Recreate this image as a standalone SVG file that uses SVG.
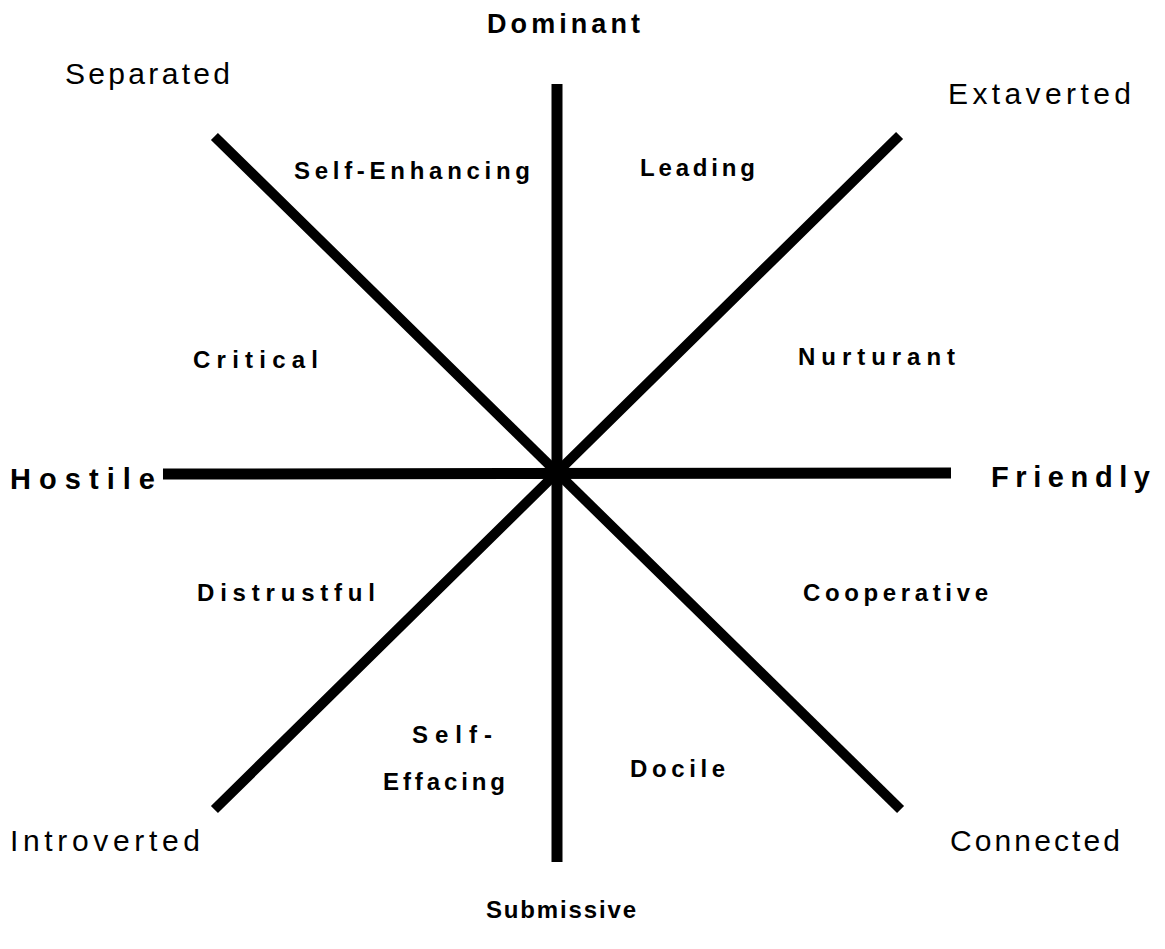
<svg xmlns="http://www.w3.org/2000/svg" width="1165" height="949" viewBox="0 0 1165 949">
<style>
.ax{stroke:#000;stroke-width:11;stroke-linecap:butt;fill:none}
.dg{stroke:#000;stroke-width:10;stroke-linecap:square;fill:none}
text{font-family:"Liberation Sans",Arial,sans-serif;fill:#000}
.pole{font-size:27px;font-weight:bold}
.sub{font-size:24px;font-weight:bold}
.big{font-size:29px;font-weight:bold}
.corner{font-size:30px}
.oct{font-size:24px;font-weight:bold}
</style>
<rect width="1165" height="949" fill="#fff"/>
<g id="connectors">
<line class="ax" x1="557" y1="84" x2="557" y2="862"/>
<line class="ax" x1="163" y1="474" x2="951" y2="473"/>
<line class="dg" x1="218" y1="140" x2="897" y2="806"/>
<line class="dg" x1="896" y1="139" x2="218" y2="806"/>
</g>
<g id="dominant"><text class="pole" x="487" y="33" textLength="153" lengthAdjust="spacing">Dominant</text></g>
<g id="submissive"><text class="sub" x="486" y="918" textLength="150" lengthAdjust="spacing">Submissive</text></g>
<g id="hostile"><text class="big" x="10" y="489" textLength="145" lengthAdjust="spacing">Hostile</text></g>
<g id="friendly"><text class="big" x="991" y="487" textLength="159" lengthAdjust="spacing">Friendly</text></g>
<g id="separated"><text class="corner" x="65" y="84" textLength="165" lengthAdjust="spacing">Separated</text></g>
<g id="extaverted"><text class="corner" x="948" y="104" textLength="183" lengthAdjust="spacing">Extaverted</text></g>
<g id="introverted"><text class="corner" x="10" y="851" textLength="190" lengthAdjust="spacing">Introverted</text></g>
<g id="connected"><text class="corner" x="950" y="851" textLength="170" lengthAdjust="spacing">Connected</text></g>
<g id="self-enhancing"><text class="oct" x="294" y="179" textLength="236" lengthAdjust="spacing">Self-Enhancing</text></g>
<g id="leading"><text class="oct" x="640" y="176" textLength="115" lengthAdjust="spacing">Leading</text></g>
<g id="critical"><text class="oct" x="193" y="368" textLength="125" lengthAdjust="spacing">Critical</text></g>
<g id="nurturant"><text class="oct" x="798" y="365" textLength="157" lengthAdjust="spacing">Nurturant</text></g>
<g id="distrustful"><text class="oct" x="197" y="601" textLength="178" lengthAdjust="spacing">Distrustful</text></g>
<g id="cooperative"><text class="oct" x="803" y="601" textLength="185" lengthAdjust="spacing">Cooperative</text></g>
<g id="self-effacing"><text class="oct" x="412" y="743" textLength="80" lengthAdjust="spacing">Self-</text><text class="oct" x="383" y="790" textLength="122" lengthAdjust="spacing">Effacing</text></g>
<g id="docile"><text class="oct" x="630" y="777" textLength="95" lengthAdjust="spacing">Docile</text></g>
</svg>
